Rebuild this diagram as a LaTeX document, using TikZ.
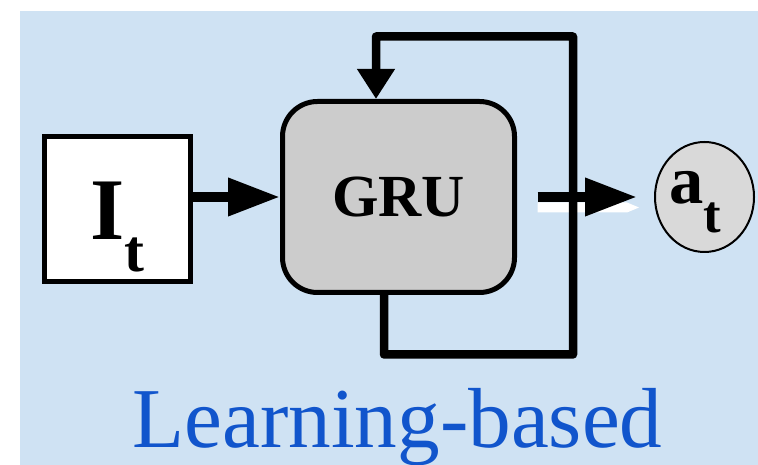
\documentclass[tikz,border=0pt]{standalone}
\usepackage{fontspec}
\setmainfont{Liberation Serif}
\usetikzlibrary{positioning}
\usetikzlibrary{arrows.meta}
\usetikzlibrary{shapes.geometric}
\definecolor{bgblue}{HTML}{CFE2F3}
\definecolor{cellgray}{HTML}{CCCCCC}
\definecolor{outgray}{HTML}{D9D9D9}
\definecolor{capblue}{HTML}{1155CC}
\tikzset{inbox/.style={draw, line width=1mm, fill=white, minimum width=29.2mm, minimum height=29mm, inner sep=0pt}}
\tikzset{cell/.style={draw, line width=1mm, fill=cellgray, rounded corners=7mm, minimum width=46.4mm, minimum height=38.2mm, inner sep=0pt, font=\fontsize{34}{36}\selectfont\bfseries}}
\tikzset{outnode/.style={draw, ellipse, line width=0.4mm, fill=outgray, minimum width=19.8mm, minimum height=22mm, inner sep=0pt}}
\tikzset{flow/.style={line width=2mm, -{Triangle[length=10.4mm, width=7.2mm]}}}
\tikzset{recur/.style={line width=1.7mm, line join=round, -{Triangle[length=6mm, width=7.2mm]}}}

\begin{document}
\begin{tikzpicture}[on grid]
        \useasboundingbox (0,0) rectangle (15.16,9.3);
        \fill[bgblue] (0.4,0) rectangle (15.16,9.08);

        \node[inbox] (img) at (2.35, 5.12) {};
        \node[cell, right=5.62 of img, yshift=2.4mm] (gru) {GRU};
        \node[outnode, right=6.12 of gru] (act) {};

        \node[anchor=base, font=\fontsize{50}{52}\selectfont\bfseries] (itxt) at ([yshift=-6.2mm]img.center)
            {I\raisebox{-6.4mm}{\fontsize{34}{36}\selectfont t}};
        \node[anchor=base, font=\fontsize{39}{40}\selectfont\bfseries] (atxt) at ([xshift=-1.9mm, yshift=-1.4mm]act.center)
            {a\raisebox{-5.8mm}{\fontsize{30}{32}\selectfont t}};

        \node[anchor=base, text=capblue, font=\fontsize{48.5}{50}\selectfont] (caption) at (7.95, 0.34) {Learning-based};

        \draw[flow] (img.east |- gru.west) -- (gru.west);

        % white under-stroke of the output arrow
        \coordinate (outS) at ([xshift=4.1mm]gru.east);
        \coordinate (outE) at ([xshift=-3.4mm]act.west);
        \fill[white] ([yshift=-1.1mm]outS) -- ([xshift=-2mm, yshift=-1.1mm]outE)
            -- ([xshift=0.4mm, yshift=-2.1mm]outE) -- ([xshift=-2mm, yshift=-3.1mm]outE)
            -- ([yshift=-3.1mm]outS) -- cycle;
        \draw[flow] (outS) -- (outE);

        % hidden state fed back into the cell
        \draw[recur] ([xshift=-2.9mm]gru.south) -- ++(0,-1.19) -- ++(3.78,0)
         -- ++(0,6.36) -- ++(-3.94,0)
         -- ([xshift=-4.5mm]gru.north)
        ;
    \end{tikzpicture}
\end{document}
